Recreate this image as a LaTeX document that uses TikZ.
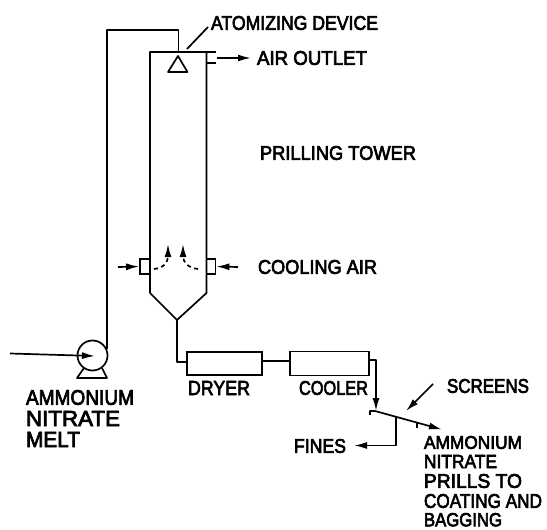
\documentclass[tikz,border=0pt]{standalone}
\usepackage{fontspec}
\usepackage{graphicx}
\setmainfont{Liberation Sans}
\newfontfamily\lblfont[RawFeature={embolden=3.5}]{Liberation Sans}
\usetikzlibrary{arrows.meta,calc}
\tikzset{
 x=1pt,y=-1pt,
 pipe/.style={line width=1.7pt,line join=round},
 flow/.style={pipe,-{Latex[length=13pt,width=7pt]}},
 dashflow/.style={pipe,dash pattern=on 4pt off 3.5pt,-{Latex[length=13pt,width=7pt]}},
 vessel/.style={draw,line width=1.7pt,inner sep=0pt,rectangle},
 lbl/.style={anchor=north west,inner sep=0pt,outer sep=0pt},
}
% \lab{name}{x1}{y1}{x2}{y2}{text}: text fitted to the extent it has in the reference
\newcommand{\lab}[6]{%
  \pgfmathsetmacro{\labw}{#4-#2}\pgfmathsetmacro{\labh}{#5-#3}%
  \node[lbl] (#1) at (#2,#3) {\resizebox*{\labw pt}{\labh pt}{\lblfont #6}};}
\begin{document}
\begin{tikzpicture}
\useasboundingbox (0,0) rectangle (547,530);
% tower
\coordinate (towerTL) at (150,52);
\coordinate (towerTR) at (206.5,52);
\coordinate (towerBL) at (150,293);
\coordinate (towerBR) at (206.5,293);
\coordinate (apex) at (177,320);
\draw[pipe] (towerBL) -- (towerTL) -- (215.5,52);
\draw[pipe] (towerTR) -- (towerBR) -- (apex) -- (towerBL);
% air outlet stub
\coordinate (stubA) at (206.5,63);
\coordinate (stubB) at (216,63);
\draw[pipe] (stubA) -- (stubB);
% atomizer
\coordinate (atoA) at (178,56);
\coordinate (atoB) at (168,72);
\coordinate (atoC) at (187.5,72);
\draw[pipe] (atoA) -- (atoB) -- (atoC) -- cycle;
% pump
\node[draw,circle,line width=1.7pt,minimum size=30pt,inner sep=0pt] (pump) at (92.5,355.5) {};
\coordinate (baseA) at (84,368);
\coordinate (baseB) at (77,378);
\coordinate (baseC) at (107,378);
\coordinate (baseD) at (102,368);
\draw[pipe] (baseA) -- (baseB) -- (baseC) -- (baseD);
\coordinate (pumpOut) at (107,349);
\coordinate (pipeTL) at (107,30);
\coordinate (pipeTR) at (178.5,30);
\coordinate (pipeEnd) at (178.5,52);
\draw[pipe] (pumpOut) -- (pipeTL) -- (pipeTR) -- (pipeEnd);
\coordinate (inlet) at (10,353.5);
\coordinate (pumpIn) at (95,356);
\draw[flow] (inlet) -- (pumpIn);
% side ports
\node[vessel,minimum width=10pt,minimum height=15pt] (portL) at (145,266.5) {};
\node[vessel,minimum width=9pt,minimum height=15pt] (portR) at (211,266.5) {};
\coordinate (airL) at (118,267);
\coordinate (airR) at (238,267);
\draw[flow] (airL) -- (portL.west);
\draw[flow] (airR) -- (portR.east);
\coordinate (curlLs) at (154,269);
\coordinate (curlLe) at (168,244);
\coordinate (curlRs) at (198,269);
\coordinate (curlRe) at (183,244);
\draw[dashflow] (curlLs) .. controls (164,268) and (168,262) .. (curlLe);
\draw[dashflow] (curlRs) .. controls (188,268) and (183,262) .. (curlRe);
% dryer, cooler
\node[vessel,minimum width=75pt,minimum height=23pt] (dryer) at (224.5,363.5) {};
\node[vessel,minimum width=79pt,minimum height=24pt] (cooler) at (329.5,363.5) {};
\coordinate (bendA) at (177,362);
\coordinate (dryerIn) at (187,362);
\draw[pipe] (apex) -- (bendA) -- (dryerIn);
\coordinate (dryerOut) at (262,361);
\coordinate (coolerIn) at (290,361);
\draw[pipe] (dryerOut) -- (coolerIn);
% screens
\coordinate (hook) at (370,415);
\coordinate (hookTop) at (370,411);
\coordinate (scrA) at (375,411);
\coordinate (scrB) at (442,429.5);
\coordinate (drop) at (396,417);
\coordinate (tickA) at (417,423);
\coordinate (tickB) at (417,428);
\draw[pipe] (hook) -- (hookTop) -- (scrA);
\draw[flow] (scrA) -- (scrB);
\draw[pipe] (tickA) -- (tickB);
\coordinate (coolerOut) at (369,360);
\coordinate (bendB) at (376,360);
\coordinate (feed) at (376,411);
\draw[flow] (coolerOut) -- (bendB) -- (feed);
\coordinate (bendC) at (396,445.5);
\coordinate (finesTip) at (354,445.5);
\draw[flow] (drop) -- (bendC) -- (finesTip);
\coordinate (scrLeadA) at (433,384);
\coordinate (scrLeadB) at (406,411);
\draw[flow] (scrLeadA) -- (scrLeadB);
% leaders
\coordinate (atoLeadA) at (208,27);
\coordinate (atoLeadB) at (187,49);
\draw[pipe] (atoLeadA) -- (atoLeadB);
\coordinate (outA) at (217,58);
\coordinate (outB) at (251,58);
\draw[flow] (outA) -- (outB);
% labels
\lab{tAto}{211}{16}{378}{30}{ATOMIZING DEVICE}
\lab{tOut}{257}{51}{367}{65}{AIR OUTLET}
\lab{tTow}{260}{146}{416}{160}{PRILLING TOWER}
\lab{tCool}{258}{260}{377}{274}{COOLING AIR}
\lab{tAm1}{26}{390}{134}{405}{AMMONIUM}
\lab{tAm2}{26}{411}{120}{426}{NITRATE}
\lab{tAm3}{26}{432}{80}{447}{MELT}
\lab{tDry}{188}{381}{250}{395}{DRYER}
\lab{tCoo}{299}{381}{368}{395}{COOLER}
\lab{tScr}{447}{379}{529}{393}{SCREENS}
\lab{tFin}{294}{439}{346}{453}{FINES}
\lab{tP1}{424}{436}{522}{449}{AMMONIUM}
\lab{tP2}{424}{455}{497}{468}{NITRATE}
\lab{tP3}{424}{474}{522}{488}{PRILLS TO}
\lab{tP4}{424}{494}{542}{508}{COATING AND}
\lab{tP5}{424}{513}{502}{526.5}{BAGGING}
\end{tikzpicture}
\end{document}
